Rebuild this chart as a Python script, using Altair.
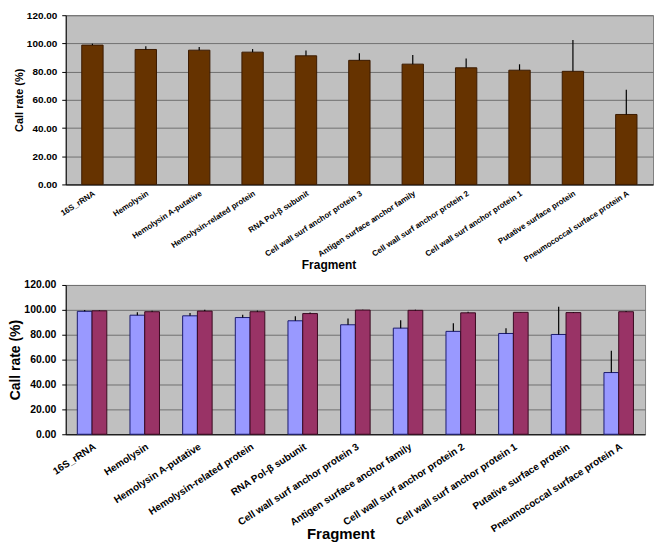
import altair as alt
import pandas as pd

fragments = ["16S_rRNA", "Hemolysin", "Hemolysin A-putative", "Hemolysin-related protein",
             "RNA Pol-β subunit", "Cell wall surf anchor protein 3", "Antigen surface anchor family",
             "Cell wall surf anchor protein 2", "Cell wall surf anchor protein 1",
             "Putative surface protein", "Pneumococcal surface protein A"]
rate_a = [98.8, 95.7, 95.2, 93.8, 91.2, 88.0, 85.3, 82.7, 81.0, 80.2, 49.6]
err_a = [1.0, 2.3, 2.2, 2.2, 3.7, 5.0, 6.4, 6.6, 4.2, 22.3, 17.5]
rate_b = [99.2, 98.5, 99.0, 98.5, 97.0, 99.8, 99.6, 97.6, 98.0, 97.8, 98.5]
err_b = [0.4, 0.8, 1.0, 0.9, 0.8, 0.2, 0.5, 0.9, 0.3, 0.4, 0.6]
series = ["Series 1", "Series 2"]

df_top = pd.DataFrame({"Fragment": fragments, "rate": rate_a, "err": err_a})
df_top["hi"] = df_top["rate"] + df_top["err"]

rows = []
for i, f in enumerate(fragments):
    rows.append({"Fragment": f, "series": series[0], "rate": rate_a[i], "hi": rate_a[i] + err_a[i]})
    rows.append({"Fragment": f, "series": series[1], "rate": rate_b[i], "hi": rate_b[i] + err_b[i]})
df_bot = pd.DataFrame(rows)

FONT = "Liberation Sans"
ticks = [0, 20, 40, 60, 80, 100, 120]


def x_enc(label_size, angle, label_pad, title_size, pad_inner, title_x, title_y):
    return alt.X("Fragment:N", sort=fragments,
                 scale=alt.Scale(paddingInner=pad_inner, paddingOuter=pad_inner / 2),
                 axis=alt.Axis(title="Fragment", labelAngle=angle, labelFontSize=label_size,
                               labelFontWeight="bold", labelFont=FONT, titleFont=FONT,
                               titleFontSize=title_size, titleFontWeight="bold",
                               domainColor="#000000", tickColor="#000000", labelColor="#000000",
                               tickSize=0, labelPadding=label_pad, grid=False,
                               titleX=title_x, titleY=title_y, titleAlign="center",
                               titleBaseline="top", labelLimit=300))


def y_enc(field, label_size, title_size, label_pad, title_pad):
    return alt.Y(f"{field}:Q", scale=alt.Scale(domain=[0, 120], nice=False),
                 axis=alt.Axis(title="Call rate (%)", values=ticks, format=".2f",
                               labelFontSize=label_size, labelFontWeight="bold", labelFont=FONT,
                               titleFont=FONT, titleFontSize=title_size, titleFontWeight="bold",
                               gridColor="#707070", gridWidth=1, domainColor="#000000",
                               tickColor="#000000", tickSize=4, labelColor="#000000",
                               labelPadding=label_pad, titlePadding=title_pad, labelOverlap=False))


top_y = y_enc("rate", 10, 11, 5, 2)
top_bars = alt.Chart(df_top).mark_bar(color="#663300", stroke="#3a1a00", strokeWidth=1).encode(
    x=x_enc(8, -33, 5, 12, 0.6, 264, 75), y=top_y)
top_err = alt.Chart(df_top).mark_rule(color="#000000", strokeWidth=1.2).encode(
    x=alt.X("Fragment:N", sort=fragments), y=top_y, y2="hi:Q")
top = alt.layer(top_bars, top_err).properties(width=590, height=170)

bot_y = y_enc("rate", 10.5, 14, 6, 1)
bot_bars = alt.Chart(df_bot).mark_bar(strokeWidth=1).encode(
    x=x_enc(10, -33, 7, 15, 0.44, 276, 93), y=bot_y,
    xOffset=alt.XOffset("series:N", sort=series, scale=alt.Scale(paddingInner=0, paddingOuter=0)),
    color=alt.Color("series:N", scale=alt.Scale(domain=series, range=["#9999FF", "#993366"]), legend=None),
    stroke=alt.Stroke("series:N", scale=alt.Scale(domain=series, range=["#1a1a6e", "#3a0a20"]), legend=None))
bot_err = alt.Chart(df_bot).mark_rule(color="#000000", strokeWidth=1.2).encode(
    x=alt.X("Fragment:N", sort=fragments),
    xOffset=alt.XOffset("series:N", sort=series),
    y=bot_y, y2="hi:Q")
bot = alt.layer(bot_bars, bot_err).properties(width=582, height=150)

chart = alt.vconcat(top, bot, spacing=8).configure_view(
    fill="#C0C0C0", stroke="#808080", strokeWidth=1
).properties(padding={"left": 0, "top": 0, "right": 0, "bottom": 0})

chart.save("out.html", embed_options={"renderer": "svg", "actions": False})
